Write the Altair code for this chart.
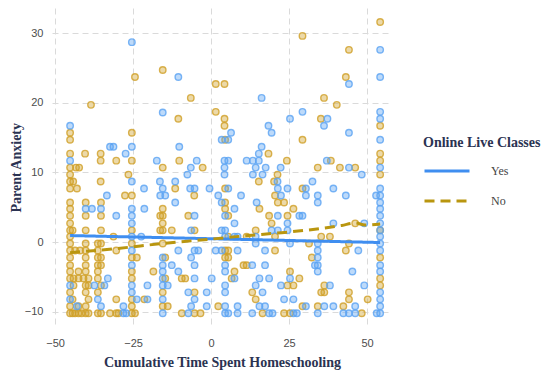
import altair as alt
import pandas as pd

# ---- data (x = cumulative time, y = parent anxiety) ----
yes_x = [-25.4, -10.5, -15.5, -45.2, -32.4, -31.3, -25.4, -10.2, -27.4, -45.2, -17.4, -4.6, -6.5, -7.6, -25.4, -16.4, -11.5,
         54.2, 44.2, 54.2, 16.2, 29.3, 54.2, 25.3, 37.3, 54.2, 18.4, 36.2, 6.4, 19.4, 44.2, 3.4, 5.5, 54.2, 16.2, 15.3,
         4.3, 5.5, 11.4, 13.4, 15.3, 37.1, 4.3, 14.3, 17.5, 22.3, 44.2, 54.2, 4.3, 13.4, 16.5, 48.3, 21.3, 32.5,
         -21.5, -15.5, -6.7, -5.3, -0.5, 5.5, 21.4, 24.5, 30.4, 39.2, 54.2,
         -33.4, -16.3, -14.7, 2.3, 9.6, 22.4, 30.4, 34.2, 43.2, 52.9, 54.2,
         -11.5, 3.4, 14.6, 34.2, 54.2,
         -40.2, -38.2, -35.3, -25.4, -21.4, 7.5, 54.2,
         -30.4, -25.4, -5.3, 4.5, 21.4, 28.3, 29.3, 54.2,
         -25.4, 7.5, 24.5, 39.2, 49.1, 54.2,
         -6.4, 3.4, 4.5, 19.4, 21.4, 24.5, 54.2,
         -25.4, -22.4, 4.5, 7.5, 8.5, 14.3, 54.2,
         14.3, 25.3, 34.2, 54.2,
         -25.4, -10.5, -5.3, -4.1, 1.5, 3.4, 8.5, 17.3, 34.2, 47.2, 54.2,
         -15.5, -6.4, 34.2,
         -25.4, -15.5, -12.6, -5.3, 4.5, 13.2, 17.3, 33.3, 34.2, 54.2,
         -15.5, -10.5, 4.5, 34.2, 45.3, 54.2,
         -33.1, -15.5, -5.3, 0.2, 7.5, 15.5, 18.6, 25.3,
         -45.2, -37.4, -34.2, -25.4, -20.4, -15.5, -13.9, 4.5, 14.3, 22.4, 38.1, 49.1,
         -25.4, -7.3, -1.4, 4.5, 16.5, 54.2,
         -45.2, -36.3, -23.8, -20.4, -15.5, -5.3, 23.4, 26.4, 54.2,
         -43.0, -35.3, -28.1, -6.4, -1.4, 4.5, 8.5, 15.5, 17.3, 30.4, 36.3, 39.2, 46.2, 54.2,
         -28.1, -27.2, -15.5, -7.3, 4.5, 5.5, 8.5, 13.2, 18.6, 19.7, 26.4, 27.5, 34.2, 42.4, 44.2, 46.2, 53.1, 54.2]
yes_y = [28.7, 23.7, 18.6, 16.7, 13.7, 13.7, 13.7, 13.7, 12.7, 11.7, 11.7, 11.7, 10.7, 9.7, 8.7, 8.7, 8.7,
         27.6, 22.7, 23.7, 20.7, 18.7, 18.7, 17.7, 17.7, 17.7, 16.7, 16.7, 15.7, 15.7, 15.7, 14.7, 14.7, 14.7, 13.7, 12.7,
         11.7, 11.7, 11.7, 11.7, 11.7, 11.7, 10.7, 10.7, 10.7, 10.7, 10.7, 10.7, 9.7, 9.7, 9.7, 9.7, 8.7, 8.7,
         7.7, 7.7, 7.7, 7.7, 7.7, 7.7, 7.7, 7.7, 7.7, 7.7, 7.7,
         6.7, 6.7, 6.7, 6.7, 6.7, 6.7, 6.7, 6.7, 6.7, 6.7, 6.7,
         5.7, 5.7, 5.7, 5.7, 5.7,
         4.8, 4.8, 4.8, 4.8, 4.8, 4.8, 4.8,
         3.8, 3.8, 3.8, 3.8, 3.8, 3.8, 3.8, 3.8,
         2.7, 2.7, 2.7, 2.7, 2.7, 2.7,
         1.7, 1.7, 1.7, 1.7, 1.7, 1.7, 1.7,
         0.8, 0.8, 0.8, 0.8, 0.8, 0.8, 0.8,
         -0.2, -0.2, -0.2, -0.2,
         -1.2, -1.2, -1.2, -1.2, -1.2, -1.2, -1.2, -1.2, -1.2, -1.2, -1.2,
         -2.2, -2.2, -2.2,
         -3.3, -3.3, -3.3, -3.3, -3.3, -3.3, -3.3, -3.3, -3.3, -3.3,
         -4.2, -4.2, -4.2, -4.2, -4.2, -4.2,
         -5.2, -5.2, -5.2, -5.2, -5.2, -5.2, -5.2, -5.2,
         -6.2, -6.2, -6.2, -6.2, -6.2, -6.2, -6.2, -6.2, -6.2, -6.2, -6.2, -6.2,
         -7.2, -7.2, -7.2, -7.2, -7.2, -7.2,
         -8.2, -8.2, -8.2, -8.2, -8.2, -8.2, -8.2, -8.2, -8.2,
         -9.2, -9.2, -9.2, -9.2, -9.2, -9.2, -9.2, -9.2, -9.2, -9.2, -9.2, -9.2, -9.2, -9.2,
         -10.2, -10.2, -10.2, -10.2, -10.2, -10.2, -10.2, -10.2, -10.2, -10.2, -10.2, -10.2, -10.2, -10.2, -10.2, -10.2, -10.2, -10.2]

no_x = [-15.5, -24.4, -6.5, -38.5, -10.5, 54.2, 29.3, 44.2, 43.2, 1.5, 4.3, 36.2, 40.3, 1.5, 4.3, 35.2, 4.3, 54.2,
        -45.2, -25.4, -45.2, 4.5, 29.3,
        -45.2, -40.4, -35.4, 18.4, 54.2,
        -35.4, -30.4, -25.4, -10.2, 24.3, 38.4, 54.2,
        -45.2, -43.3, -42.3, -15.5, -2.7, 34.2, 41.3, 46.2,
        -45.2, -26.5, 21.3, 54.2,
        -45.2, -44.2, -35.4, 15.3, 20.2,
        -45.2, -43.0, -11.5, 4.5, 29.3,
        -27.6, -25.4, -5.4, 20.5,
        -45.2, -40.2, -35.3, 4.5, 21.4, 23.4,
        -45.2, -15.5, 4.5, 15.5, 26.4,
        -45.2, -40.2, -35.3, -16.3, -15.5, -7.3, 5.5, 18.6, 24.5,
        -45.2, -15.5, 19.4, 46.2,
        -45.2, -44.4, -40.2, -35.3, -25.4, -16.3, -15.5, -12.6, -5.3, 14.3, 54.2,
        -45.2, -31.3, 5.5, 11.4, 20.5, 35.3, 38.1,
        -45.2, -40.2, -36.3, -35.3, -25.4, -15.5, 31.4, 44.2,
        -45.2, -43.6, -42.0, -40.2, -36.3, -30.4, 4.5, 5.5, 20.5, 43.2,
        -45.2, -40.2, -36.3, -35.3, -25.4, -23.8, -14.7, 4.5, 5.5, 32.3, 54.2,
        -45.2, -40.2, -36.3, -35.3, 10.4, 11.4,
        -45.2, -42.5, -40.2, -36.3, -25.4, -18.5, 7.5, 25.3,
        -45.2, -44.1, -42.5, -40.9, -39.3, -36.3, -25.4, -14.7, -9.4, -8.3, 6.6, 28.3, 54.2,
        -44.1, -40.2, -39.3, -35.3, 24.5, 26.4, 36.3, 54.2,
        -45.2, -40.2, -36.3, -15.5, -5.3, 13.2, 35.3, 36.3, 44.2,
        -44.4, -39.3, -30.4, -25.4, -21.4, 14.3, 44.2, 50.2,
        -45.2, -42.5, -40.2, -25.4, -15.5, -13.9, 2.3, 29.3, 34.2, 42.4,
        -45.2, -44.4, -43.6, -42.5, -41.5, -40.2, -39.3, -36.3, -35.3, -32.4, -30.4, -29.7, -25.4, -24.4, -9.4, -5.3, -3.4,
        16.5, 23.4, 25.3, 48.3]
no_y = [24.7, 23.7, 20.7, 19.7, 17.7, 31.6, 29.6, 27.6, 23.7, 22.7, 22.7, 20.7, 19.7, 18.7, 17.7, 17.7, 16.7, 16.7,
        15.7, 15.7, 14.7, 14.7, 14.7,
        12.7, 12.7, 12.7, 12.7, 12.7,
        11.7, 11.7, 11.7, 11.7, 11.7, 11.7, 11.7,
        10.7, 10.7, 10.7, 10.7, 10.7, 10.7, 10.7, 10.7,
        9.7, 9.7, 9.7, 9.7,
        8.7, 8.7, 8.7, 8.7, 8.7,
        7.7, 7.7, 7.7, 7.7, 7.7,
        6.7, 6.7, 6.7, 6.7,
        5.7, 5.7, 5.7, 5.7, 5.7, 5.7,
        4.8, 4.8, 4.8, 4.8, 4.8,
        3.8, 3.8, 3.8, 3.8, 3.8, 3.8, 3.8, 3.8, 3.8,
        2.7, 2.7, 2.7, 2.7,
        1.7, 1.7, 1.7, 1.7, 1.7, 1.7, 1.7, 1.7, 1.7, 1.7, 1.7,
        0.8, 0.8, 0.8, 0.8, 0.8, 0.8, 0.8,
        -0.2, -0.2, -0.2, -0.2, -0.2, -0.2, -0.2, -0.2,
        -1.2, -1.2, -1.2, -1.2, -1.2, -1.2, -1.2, -1.2, -1.2, -1.2,
        -2.2, -2.2, -2.2, -2.2, -2.2, -2.2, -2.2, -2.2, -2.2, -2.2, -2.2,
        -3.3, -3.3, -3.3, -3.3, -3.3, -3.3,
        -4.2, -4.2, -4.2, -4.2, -4.2, -4.2, -4.2, -4.2,
        -5.2, -5.2, -5.2, -5.2, -5.2, -5.2, -5.2, -5.2, -5.2, -5.2, -5.2, -5.2, -5.2,
        -6.2, -6.2, -6.2, -6.2, -6.2, -6.2, -6.2, -6.2,
        -7.2, -7.2, -7.2, -7.2, -7.2, -7.2, -7.2, -7.2, -7.2,
        -8.2, -8.2, -8.2, -8.2, -8.2, -8.2, -8.2, -8.2,
        -9.2, -9.2, -9.2, -9.2, -9.2, -9.2, -9.2, -9.2, -9.2, -9.2,
        -10.2, -10.2, -10.2, -10.2, -10.2, -10.2, -10.2, -10.2, -10.2, -10.2, -10.2, -10.2, -10.2, -10.2, -10.2, -10.2, -10.2,
        -10.2, -10.2, -10.2, -10.2]

# smoothed trend lines
yes_line_x = [-45.2, 4.5, 54.2]
yes_line_y = [0.95, 0.45, -0.05]
no_line_x = [-45.2, -31.0, -14.7, -1.0, 11.9, 21.0, 31.2, 41.9, 46.2, 49.4, 54.2]
no_line_y = [-1.5, -0.95, -0.15, 0.4, 0.95, 1.3, 1.75, 2.4, 2.75, 2.45, 2.6]

groups = ["Yes", "No"]
point_colors = ["#5aa2f2", "#cf9f26"]
line_colors = ["#3f8ef0", "#b9960f"]

pts = pd.concat([
    pd.DataFrame({"x": no_x, "y": no_y, "g": "No"}),
    pd.DataFrame({"x": yes_x, "y": yes_y, "g": "Yes"}),
])
lines = pd.concat([
    pd.DataFrame({"x": yes_line_x, "y": yes_line_y, "g": "Yes"}),
    pd.DataFrame({"x": no_line_x, "y": no_line_y, "g": "No"}),
])

navy = "#2b3352"
serif = "Liberation Serif"

xs = alt.Scale(domain=[-51, 58], nice=False, zero=False)
ys = alt.Scale(domain=[-12.1, 33.6], nice=False, zero=False)

xenc = alt.X("x:Q", scale=xs, axis=alt.Axis(values=[-50, -25, 0, 25, 50],
             title="Cumulative Time Spent Homeschooling"))
yenc = alt.Y("y:Q", scale=ys, axis=alt.Axis(values=[-10, 0, 10, 20, 30], title="Parent Anxiety"))

points = alt.Chart(pts).mark_point(
    shape="circle", size=42, filled=True, fillOpacity=0.4, strokeWidth=1.4, strokeOpacity=0.8
).encode(
    x=xenc, y=yenc,
    fill=alt.Fill("g:N", scale=alt.Scale(domain=groups, range=point_colors), legend=None),
    stroke=alt.Stroke("g:N", scale=alt.Scale(domain=groups, range=point_colors), legend=None),
)

trend = alt.Chart(lines).mark_line(strokeWidth=3, interpolate="monotone").encode(
    x=xenc, y=yenc,
    color=alt.Color("g:N", scale=alt.Scale(domain=groups, range=line_colors),
                    legend=alt.Legend(title="Online Live Classes")),
    strokeDash=alt.StrokeDash("g:N", scale=alt.Scale(domain=groups, range=[[1, 0], [10, 6]]),
                              legend=alt.Legend(title="Online Live Classes")),
)

chart = alt.layer(points, trend).resolve_scale(
    fill="independent", stroke="independent"
).properties(
    width=340, height=318.5,
    autosize=alt.AutoSizeParams(type="none"),
    padding={"left": 44, "top": 0, "right": 150, "bottom": 45},
).configure_view(stroke=None).configure_axis(
    grid=True, gridDash=[6, 4], gridColor="#dadada", gridWidth=1,
    domain=False, ticks=False,
    labelFont="Liberation Sans", labelFontSize=11, labelColor="#4d4d4d",
    titleFont=serif, titleFontSize=14, titleFontWeight="bold", titleColor=navy,
).configure_axisX(labelPadding=11, titlePadding=7).configure_axisY(
    labelPadding=9, titlePadding=1
).configure_legend(
    orient="none", legendX=371, legendY=128,
    titleFont=serif, titleFontSize=14, titleFontWeight="bold", titleColor=navy, titlePadding=-3,
    labelFont=serif, labelFontSize=12, labelColor="#444444", labelOffset=20,
    symbolType="stroke", symbolSize=2025, symbolStrokeWidth=3, rowPadding=-18.5,
)

chart.save("out.html", embed_options={"renderer": "svg", "actions": False})
